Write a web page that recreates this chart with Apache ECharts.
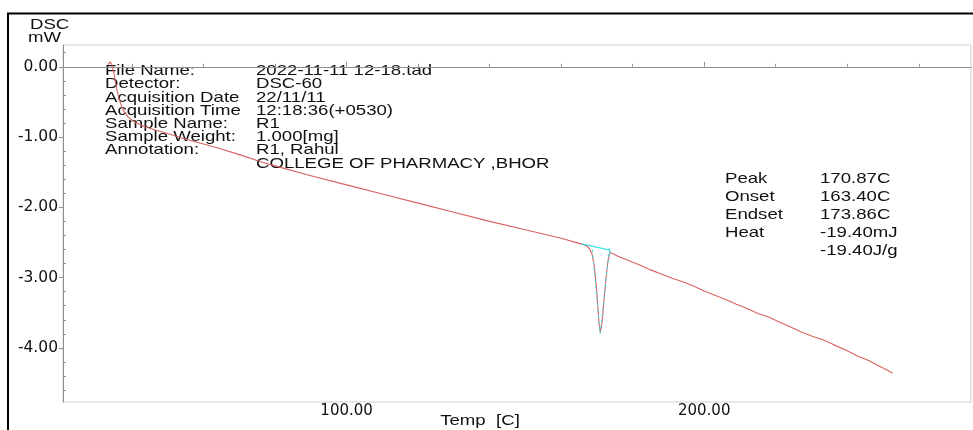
<!DOCTYPE html>
<html>
<head>
<meta charset="utf-8">
<script src="https://cdn.jsdelivr.net/npm/echarts@6/dist/echarts.min.js"></script>
<style>
  html, body { margin: 0; padding: 0; background: #fff; }
  #chart { width: 973px; height: 430px; }
</style>
</head>
<body>
<div id="chart"></div>
<script>
// DSC trace (temperature in C, heat flow in mW)
const tempC = [
  33.3, 33.8, 34.3, 34.8, 35.3, 35.8, 36.3, 37.0, 37.8, 39.0, 40.8, 43.5, 46.5, 50, 55,
  60, 65, 70, 76, 80, 90, 100, 110, 120, 130, 140, 150, 160, 165.5,
  166.8, 167.8, 168.6, 169.2, 169.8, 170.3, 170.6, 170.9, 171.2, 171.6, 172.1, 172.6, 173.1, 173.6,
  174.5, 176, 178, 180, 182, 185, 188, 191, 194, 197, 200, 203, 206, 209, 212, 215, 218,
  221, 224, 227, 230, 233, 236, 240, 243, 246, 249, 251, 252.7
]
const dscMw = [
  0.03, 0.07, 0.04, -0.06, -0.20, -0.33, -0.44, -0.55, -0.64, -0.72, -0.79, -0.85, -0.90, -0.95, -1.03,
  -1.10, -1.17, -1.25, -1.35, -1.41, -1.55, -1.68, -1.81, -1.94, -2.07, -2.20, -2.32, -2.44, -2.52,
  -2.54, -2.58, -2.66, -2.82, -3.10, -3.45, -3.66, -3.77, -3.72, -3.55, -3.25, -2.98, -2.76, -2.64,
  -2.66, -2.70, -2.74, -2.78, -2.82, -2.89, -2.95, -3.01, -3.06, -3.12, -3.19, -3.25, -3.31, -3.38, -3.44, -3.51, -3.56,
  -3.63, -3.70, -3.77, -3.83, -3.88, -3.95, -4.04, -4.12, -4.18, -4.26, -4.31, -4.36
]

// peak analysis construction (baseline + tangents)
const baseTemp = [165.7, 173.6, 173.6]
const baseMw = [-2.52, -2.61, -2.67]
const tangentTemp = [168.7, 170.9, 173.5]
const tangentMw = [-2.60, -3.80, -2.58]

// tick positions
const yLabelTicks = [0, -1, -2, -3, -4]
const yMinorTicks = [0.2, -0.2, -0.4, -0.6, -0.8, -1.2, -1.4, -1.6, -1.8, -2.2, -2.4, -2.6, -2.8,
  -3.2, -3.4, -3.6, -3.8, -4.2, -4.4, -4.6]
const xLabelTicks = [100, 200]
const xMinorTicks = [40, 60, 80, 120, 140, 160, 180, 220, 240, 260]

// header texts
const infoKeys = ['File Name:', 'Detector:', 'Acquisition Date', 'Acquisition Time',
  'Sample Name:', 'Sample Weight:', 'Annotation:', '']
const infoValues = ['2022-11-11 12-18.tad', 'DSC-60', '22/11/11', '12:18:36(+0530)',
  'R1', '1.000[mg]', 'R1, Rahul', 'COLLEGE OF PHARMACY ,BHOR']
const resultKeys = ['Peak', 'Onset', 'Endset', 'Heat', '']
const resultValues = ['170.87C', '163.40C', '173.86C', '-19.40mJ', '-19.40J/g']

const pairs = (xs, ys) => xs.map((x, i) => [x, ys[i]])

const FONT = 'Liberation Sans'
const STRETCH = 1.24
function txt (text, x, y, align) {
  return {
    type: 'text',
    x: x,
    y: y,
    scaleX: STRETCH,
    silent: true,
    style: {
      text: text,
      fill: '#111',
      fontSize: 15,
      fontFamily: FONT,
      textAlign: align || 'left',
      align: align || 'left',
      textVerticalAlign: 'middle',
      verticalAlign: 'middle'
    }
  }
}

const graphics = [
  {
    type: 'rect',
    silent: true,
    shape: { x: 8, y: 13.5, width: 1000, height: 500 },
    style: { fill: 'none', stroke: '#000', lineWidth: 2 }
  },
  txt('DSC', 30, 25),
  txt('mW', 28, 38),
  txt('Temp  [C]', 480, 421, 'center')
]
infoKeys.forEach((k, i) => {
  const y = 71 + i * 13.2
  if (k) graphics.push(txt(k, 105, y))
  graphics.push(txt(infoValues[i], 256, y))
})
resultKeys.forEach((k, i) => {
  const y = 179 + i * 18
  if (k) graphics.push(txt(k, 725, y))
  graphics.push(txt(resultValues[i], 820, y))
})

const axisGray = '#8f8f8f'
const chart = echarts.init(document.getElementById('chart'))
chart.setOption({
  animation: false,
  backgroundColor: '#fff',
  grid: {
    left: 63,
    top: 45,
    right: 2,
    bottom: 28,
    show: true,
    borderColor: '#d0d0d0',
    borderWidth: 1
  },
  xAxis: [
    {
      type: 'value',
      min: 20.7,
      max: 274.6,
      splitLine: { show: false },
      axisLine: { lineStyle: { color: axisGray } },
      axisTick: { inside: true, length: 5, customValues: xLabelTicks, lineStyle: { color: axisGray } },
      axisLabel: {
        customValues: xLabelTicks,
        margin: 2,
        color: '#111',
        fontSize: 15,
        fontFamily: 'DejaVu Sans',
        formatter: v => v.toFixed(2)
      }
    },
    {
      type: 'value',
      position: 'bottom',
      min: 20.7,
      max: 274.6,
      splitLine: { show: false },
      axisLine: { show: false },
      axisLabel: { show: false },
      axisTick: { inside: true, length: 3, customValues: xMinorTicks, lineStyle: { color: axisGray } }
    }
  ],
  yAxis: [
    {
      type: 'value',
      min: -4.77,
      max: 0.31,
      splitLine: { show: false },
      axisLine: { show: true, lineStyle: { color: axisGray } },
      axisTick: { show: true, length: 4, customValues: yLabelTicks, lineStyle: { color: axisGray } },
      axisLabel: {
        customValues: yLabelTicks,
        margin: 5,
        color: '#111',
        fontSize: 15.5,
        fontFamily: 'DejaVu Sans',
        formatter: v => v.toFixed(2)
      }
    },
    {
      type: 'value',
      position: 'left',
      min: -4.77,
      max: 0.31,
      splitLine: { show: false },
      axisLine: { show: false },
      axisLabel: { show: false },
      axisTick: { show: true, inside: true, length: 3, customValues: yMinorTicks, lineStyle: { color: axisGray } }
    }
  ],
  graphic: graphics,
  series: [
    {
      name: 'DSC',
      type: 'line',
      symbol: 'none',
      data: pairs(tempC, dscMw),
      lineStyle: { color: '#d8625d', width: 1.1 }
    },
    {
      name: 'baseline',
      type: 'line',
      symbol: 'none',
      data: pairs(baseTemp, baseMw),
      lineStyle: { color: '#45dede', width: 1.2 }
    },
    {
      name: 'tangent',
      type: 'line',
      symbol: 'none',
      data: pairs(tangentTemp, tangentMw),
      lineStyle: { color: '#45dede', width: 1, type: [3, 3] }
    }
  ]
})
</script>
</body>
</html>
